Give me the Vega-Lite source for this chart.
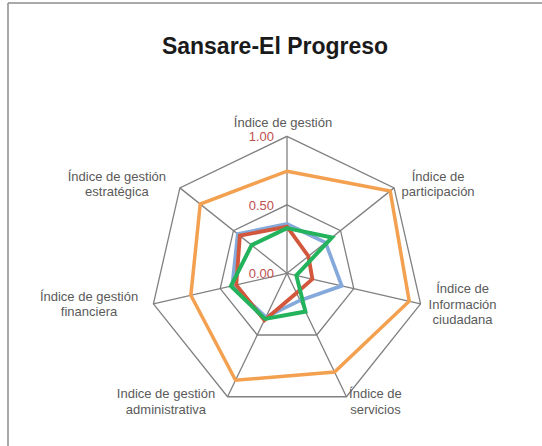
{
  "$schema": "https://vega.github.io/schema/vega-lite/v6.json",
  "width": 534,
  "height": 443,
  "autosize": {"type": "none"},
  "padding": {"left": 8, "top": 3, "right": 0, "bottom": 0},
  "background": "white",
  "config": {"view": {"stroke": null}},
  "title": {"text": "Sansare-El Progreso", "anchor": "middle", "frame": "group", "offset": -74.5, "dx": 0, "baseline": "alphabetic", "fontSize": 23, "font": "Liberation Sans", "fontWeight": "bold", "color": "#1a1a1a"},
  "datasets": {
    "axes": [
      {"i": 0, "label": "Índice de gestión"},
      {"i": 1, "label": "Índice de\nparticipación"},
      {"i": 2, "label": "Índice de\nInformación\nciudadana"},
      {"i": 3, "label": "Índice de\nservicios"},
      {"i": 4, "label": "Indice de gestión\nadministrativa"},
      {"i": 5, "label": "Índice de gestión\nfinanciera"},
      {"i": 6, "label": "Índice de gestión\nestratégica"}
    ],
    "grid": [
      {"level": 0.5, "i": 0}, {"level": 0.5, "i": 1}, {"level": 0.5, "i": 2}, {"level": 0.5, "i": 3}, {"level": 0.5, "i": 4}, {"level": 0.5, "i": 5}, {"level": 0.5, "i": 6},
      {"level": 1, "i": 0}, {"level": 1, "i": 1}, {"level": 1, "i": 2}, {"level": 1, "i": 3}, {"level": 1, "i": 4}, {"level": 1, "i": 5}, {"level": 1, "i": 6}
    ],
    "ticks": [
      {"v": 0, "label": "0.00"},
      {"v": 0.5, "label": "0.50"},
      {"v": 1, "label": "1.00"}
    ],
    "series": [
      {"serie": "s1", "i": 0, "value": 0.745},
      {"serie": "s1", "i": 1, "value": 0.963},
      {"serie": "s1", "i": 2, "value": 0.915},
      {"serie": "s1", "i": 3, "value": 0.80},
      {"serie": "s1", "i": 4, "value": 0.866},
      {"serie": "s1", "i": 5, "value": 0.72},
      {"serie": "s1", "i": 6, "value": 0.81},
      {"serie": "s2", "i": 0, "value": 0.36},
      {"serie": "s2", "i": 1, "value": 0.36},
      {"serie": "s2", "i": 2, "value": 0.41},
      {"serie": "s2", "i": 3, "value": 0.22},
      {"serie": "s2", "i": 4, "value": 0.355},
      {"serie": "s2", "i": 5, "value": 0.41},
      {"serie": "s2", "i": 6, "value": 0.46},
      {"serie": "s3", "i": 0, "value": 0.34},
      {"serie": "s3", "i": 1, "value": 0.20},
      {"serie": "s3", "i": 2, "value": 0.19},
      {"serie": "s3", "i": 3, "value": 0.16},
      {"serie": "s3", "i": 4, "value": 0.38},
      {"serie": "s3", "i": 5, "value": 0.38},
      {"serie": "s3", "i": 6, "value": 0.44},
      {"serie": "s4", "i": 0, "value": 0.33},
      {"serie": "s4", "i": 1, "value": 0.42},
      {"serie": "s4", "i": 2, "value": 0.07},
      {"serie": "s4", "i": 3, "value": 0.31},
      {"serie": "s4", "i": 4, "value": 0.37},
      {"serie": "s4", "i": 5, "value": 0.42},
      {"serie": "s4", "i": 6, "value": 0.33}
    ]
  },
  "layer": [
    {
      "data": {"name": "ticks"},
      "mark": {"type": "rule", "stroke": "#8c8c8c", "strokeWidth": 1.5},
      "transform": [{"filter": "datum.v == 0"}],
      "encoding": {
        "x": {"datum": -2.0365, "type": "quantitative", "scale": {"domain": [-2.0365, 1.86131], "nice": false, "zero": false}, "axis": null}
      }
    },
    {
      "data": {"name": "ticks"},
      "mark": {"type": "rule", "stroke": "#8c8c8c", "strokeWidth": 1.5},
      "transform": [{"filter": "datum.v == 0"}],
      "encoding": {
        "y": {"datum": 1.97299, "type": "quantitative", "scale": {"domain": [-1.26058, 1.97299], "nice": false, "zero": false}, "axis": null}
      }
    },
    {
      "data": {"name": "grid"},
      "transform": [
        {"calculate": "datum.i * 2 * PI / 7", "as": "angle"},
        {"calculate": "datum.level * sin(datum.angle)", "as": "x"},
        {"calculate": "datum.level * cos(datum.angle)", "as": "y"}
      ],
      "mark": {"type": "line", "interpolate": "linear-closed", "stroke": "#808080", "strokeWidth": 1.3},
      "encoding": {
        "x": {"field": "x", "type": "quantitative", "scale": {"domain": [-2.0365, 1.86131], "nice": false, "zero": false}, "axis": null},
        "y": {"field": "y", "type": "quantitative", "scale": {"domain": [-1.26058, 1.97299], "nice": false, "zero": false}, "axis": null},
        "detail": {"field": "level", "type": "nominal"},
        "order": {"field": "i", "type": "quantitative"}
      }
    },
    {
      "data": {"name": "axes"},
      "transform": [
        {"calculate": "datum.i * 2 * PI / 7", "as": "angle"},
        {"calculate": "sin(datum.angle)", "as": "x"},
        {"calculate": "cos(datum.angle)", "as": "y"}
      ],
      "mark": {"type": "rule", "stroke": "#808080", "strokeWidth": 1.3},
      "encoding": {
        "x": {"field": "x", "type": "quantitative"},
        "y": {"field": "y", "type": "quantitative"},
        "x2": {"datum": 0},
        "y2": {"datum": 0}
      }
    },
    {
      "data": {"name": "series"},
      "transform": [
        {"calculate": "datum.i * 2 * PI / 7", "as": "angle"},
        {"calculate": "datum.value * sin(datum.angle)", "as": "x"},
        {"calculate": "datum.value * cos(datum.angle)", "as": "y"}
      ],
      "mark": {"type": "line", "interpolate": "linear-closed", "strokeJoin": "miter"},
      "encoding": {
        "x": {"field": "x", "type": "quantitative"},
        "y": {"field": "y", "type": "quantitative"},
        "color": {"field": "serie", "type": "nominal", "scale": {"domain": ["s1", "s2", "s3", "s4"], "range": ["#f3a150", "#84a9da", "#d2573c", "#22b35c"]}, "legend": null},
        "strokeWidth": {"field": "serie", "type": "nominal", "scale": {"domain": ["s1", "s2", "s3", "s4"], "range": [3.5, 4, 4, 6]}, "legend": null},
        "order": {"field": "i", "type": "quantitative"}
      }
    },
    {
      "data": {"name": "ticks"},
      "mark": {"type": "text", "align": "right", "baseline": "alphabetic", "dx": -13, "dy": 5, "font": "Liberation Sans", "fontSize": 13, "color": "#c0504d"},
      "encoding": {
        "x": {"datum": 0, "type": "quantitative"},
        "y": {"field": "v", "type": "quantitative"},
        "text": {"field": "label"}
      }
    },
    {
      "data": {"name": "axes"},
      "transform": [
        {"filter": "datum.i == 0"},
        {"calculate": "sin(datum.i * 2 * PI / 7)", "as": "x"},
        {"calculate": "cos(datum.i * 2 * PI / 7)", "as": "y"}
      ],
      "mark": {"type": "text", "align": "center", "baseline": "alphabetic", "lineBreak": "\n", "lineHeight": 15.5, "dx": -4, "dy": -9, "font": "Liberation Sans", "fontSize": 13, "color": "#5a5a5a"},
      "encoding": {"x": {"field": "x", "type": "quantitative"}, "y": {"field": "y", "type": "quantitative"}, "text": {"field": "label"}}
    },
    {
      "data": {"name": "axes"},
      "transform": [
        {"filter": "datum.i == 1"},
        {"calculate": "sin(datum.i * 2 * PI / 7)", "as": "x"},
        {"calculate": "cos(datum.i * 2 * PI / 7)", "as": "y"}
      ],
      "mark": {"type": "text", "align": "center", "baseline": "alphabetic", "lineBreak": "\n", "lineHeight": 15.5, "dx": 44, "dy": -7, "font": "Liberation Sans", "fontSize": 13, "color": "#5a5a5a"},
      "encoding": {"x": {"field": "x", "type": "quantitative"}, "y": {"field": "y", "type": "quantitative"}, "text": {"field": "label"}}
    },
    {
      "data": {"name": "axes"},
      "transform": [
        {"filter": "datum.i == 2"},
        {"calculate": "sin(datum.i * 2 * PI / 7)", "as": "x"},
        {"calculate": "cos(datum.i * 2 * PI / 7)", "as": "y"}
      ],
      "mark": {"type": "text", "align": "center", "baseline": "alphabetic", "lineBreak": "\n", "lineHeight": 15.5, "dx": 42, "dy": -10.5, "font": "Liberation Sans", "fontSize": 13, "color": "#5a5a5a"},
      "encoding": {"x": {"field": "x", "type": "quantitative"}, "y": {"field": "y", "type": "quantitative"}, "text": {"field": "label"}}
    },
    {
      "data": {"name": "axes"},
      "transform": [
        {"filter": "datum.i == 3"},
        {"calculate": "sin(datum.i * 2 * PI / 7)", "as": "x"},
        {"calculate": "cos(datum.i * 2 * PI / 7)", "as": "y"}
      ],
      "mark": {"type": "text", "align": "center", "baseline": "alphabetic", "lineBreak": "\n", "lineHeight": 15.5, "dx": 29, "dy": 1.6, "font": "Liberation Sans", "fontSize": 13, "color": "#5a5a5a"},
      "encoding": {"x": {"field": "x", "type": "quantitative"}, "y": {"field": "y", "type": "quantitative"}, "text": {"field": "label"}}
    },
    {
      "data": {"name": "axes"},
      "transform": [
        {"filter": "datum.i == 4"},
        {"calculate": "sin(datum.i * 2 * PI / 7)", "as": "x"},
        {"calculate": "cos(datum.i * 2 * PI / 7)", "as": "y"}
      ],
      "mark": {"type": "text", "align": "center", "baseline": "alphabetic", "lineBreak": "\n", "lineHeight": 15.5, "dx": -61.6, "dy": 1.6, "font": "Liberation Sans", "fontSize": 13, "color": "#5a5a5a"},
      "encoding": {"x": {"field": "x", "type": "quantitative"}, "y": {"field": "y", "type": "quantitative"}, "text": {"field": "label"}}
    },
    {
      "data": {"name": "axes"},
      "transform": [
        {"filter": "datum.i == 5"},
        {"calculate": "sin(datum.i * 2 * PI / 7)", "as": "x"},
        {"calculate": "cos(datum.i * 2 * PI / 7)", "as": "y"}
      ],
      "mark": {"type": "text", "align": "center", "baseline": "alphabetic", "lineBreak": "\n", "lineHeight": 15.5, "dx": -64.4, "dy": -3, "font": "Liberation Sans", "fontSize": 13, "color": "#5a5a5a"},
      "encoding": {"x": {"field": "x", "type": "quantitative"}, "y": {"field": "y", "type": "quantitative"}, "text": {"field": "label"}}
    },
    {
      "data": {"name": "axes"},
      "transform": [
        {"filter": "datum.i == 6"},
        {"calculate": "sin(datum.i * 2 * PI / 7)", "as": "x"},
        {"calculate": "cos(datum.i * 2 * PI / 7)", "as": "y"}
      ],
      "mark": {"type": "text", "align": "center", "baseline": "alphabetic", "lineBreak": "\n", "lineHeight": 15.5, "dx": -63, "dy": -7, "font": "Liberation Sans", "fontSize": 13, "color": "#5a5a5a"},
      "encoding": {"x": {"field": "x", "type": "quantitative"}, "y": {"field": "y", "type": "quantitative"}, "text": {"field": "label"}}
    }
  ]
}
